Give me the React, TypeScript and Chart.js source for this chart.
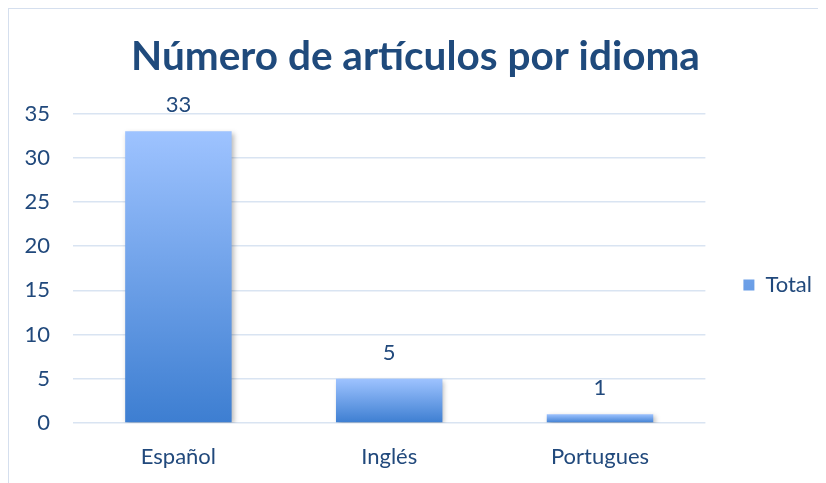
import React, { useEffect, useRef } from "react";
import { Chart, registerables } from "chart.js";

Chart.register(...registerables);

const TITLE = "Número de artículos por idioma";
const categories = ["Español", "Inglés", "Portugues"];
const seriesName = "Total";
const totals = [33, 5, 1];
const yMax = 35;
const yStep = 5;

const TEXT = "#21497C";
const FONT = "Lato, 'Open Sans', sans-serif";

const barShadow = {
  id: "barShadow",
  beforeDatasetsDraw(chart: any) {
    const c = chart.ctx;
    c.save();
    c.shadowColor = "rgba(0,0,0,0.28)";
    c.shadowBlur = 5;
    c.shadowOffsetX = 2;
    c.shadowOffsetY = 2;
  },
  afterDatasetsDraw(chart: any) {
    chart.ctx.restore();
  },
};

const dataLabels = {
  id: "dataLabels",
  afterDatasetsDraw(chart: any) {
    const c = chart.ctx;
    c.save();
    c.fillStyle = TEXT;
    c.font = `22px ${FONT}`;
    c.textAlign = "center";
    c.textBaseline = "middle";
    chart.data.datasets.forEach((ds: any, di: number) => {
      const meta = chart.getDatasetMeta(di);
      meta.data.forEach((el: any, i: number) => {
        c.fillText(String(ds.data[i]), el.x, el.y - 26);
      });
    });
    c.restore();
  },
};

export default function App() {
  const ref = useRef<HTMLCanvasElement>(null);
  useEffect(() => {
    if (!ref.current) return;
    const chart = new Chart(ref.current, {
      type: "bar",
      data: {
        labels: categories,
        datasets: [
          {
            label: seriesName,
            data: totals,
            backgroundColor: (ctx: any) => {
              const ch = ctx.chart;
              if (ctx.type !== "data" || !ch.chartArea) return "#6FA3EE";
              const y = ch.scales.y;
              const top = y.getPixelForValue(ctx.raw);
              const bottom = y.getPixelForValue(0);
              const g = ch.ctx.createLinearGradient(0, top, 0, bottom);
              g.addColorStop(0, "#9EC3FF");
              g.addColorStop(1, "#3D7ED1");
              return g;
            },
            borderWidth: 0,
            categoryPercentage: 1,
            barPercentage: 0.505,
          },
        ],
      },
      options: {
        animation: false,
        responsive: true,
        maintainAspectRatio: false,
        layout: { padding: { left: 0, right: 4, top: 0, bottom: 0 } },
        plugins: {
          title: {
            display: true,
            text: TITLE,
            color: "#1F4A7C",
            font: { family: FONT, size: 40.5, weight: "bold" },
            padding: { top: 24, bottom: 32 },
          },
          legend: {
            position: "right",
            title: {
              display: true,
              text: " ",
              font: { family: FONT, size: 12 },
              padding: { top: 0, bottom: 63.6 },
            },
            labels: {
              color: TEXT,
              font: { family: FONT, size: 22 },
              boxWidth: 11,
              boxHeight: 11,
              padding: 38,
            },
          },
          tooltip: { enabled: false },
        },
        scales: {
          x: {
            afterFit: (s: any) => {
              s.height = 60;
            },
            grid: { display: false, drawTicks: false },
            border: { display: false },
            ticks: { color: TEXT, font: { family: FONT, size: 22 }, padding: 21 },
          },
          y: {
            min: 0,
            max: yMax,
            afterFit: (s: any) => {
              s.width = 64;
            },
            grid: { color: "#D9E4F2", lineWidth: 1.5, drawTicks: false },
            border: { display: false },
            ticks: {
              stepSize: yStep,
              color: TEXT,
              font: { family: FONT, size: 22 },
              padding: 23,
            },
          },
        },
      },
      plugins: [barShadow, dataLabels],
    });
    return () => chart.destroy();
  }, []);
  return (
    <div
      style={{
        width: 818,
        height: 475,
        borderLeft: "1px solid #D5DFEE",
        borderTop: "1px solid #D5DFEE",
        boxSizing: "border-box",
        position: "relative",
        background: "#fff",
      }}
    >
      <canvas ref={ref} />
    </div>
  );
}
